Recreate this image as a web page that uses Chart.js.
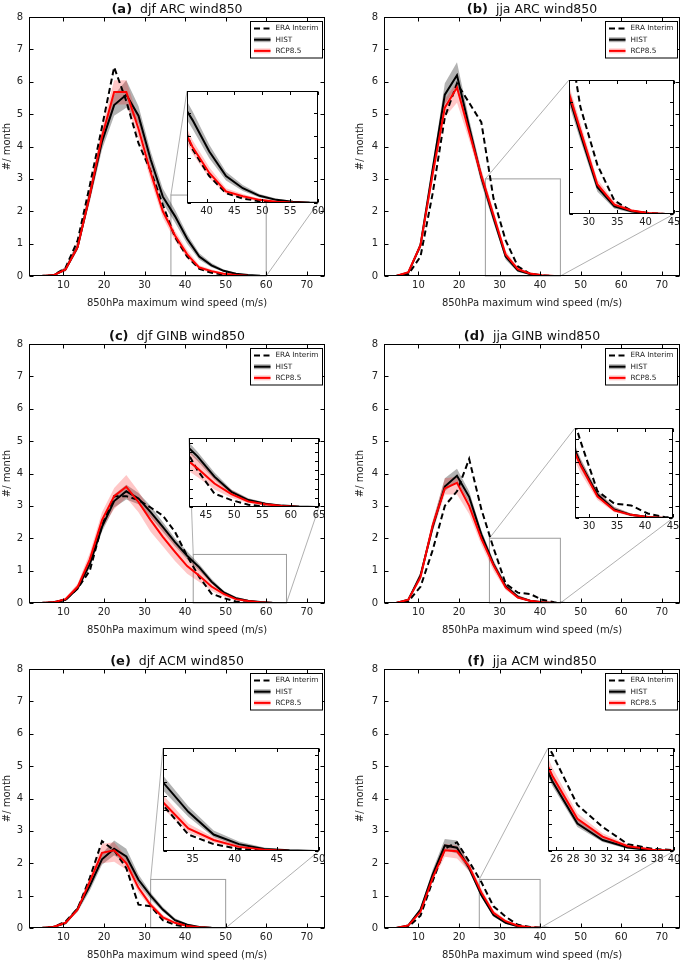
<!DOCTYPE html>
<html>
<head>
<meta charset="utf-8">
<script src="https://cdn.jsdelivr.net/npm/chart.js@4.4.0/dist/chart.umd.min.js"></script>
<style>
  body { margin: 0; background: #fff; }
  #fig { position: relative; width: 685px; height: 961px; overflow: hidden; font-family: 'DejaVu Sans', sans-serif; }
  #fig canvas { position: absolute; }
  .ttl { position: absolute; text-align: center; font-size: 12.5px; line-height: 14px; color: #111; white-space: nowrap; }
  .ttl b { font-size: 13px; margin-right: 4px; }
</style>
</head>
<body>
<div id="fig"></div>
<script>
// bin centres (m/s)
const speeds = [1.5, 4.5, 7.5, 10.5, 13.5, 16.5, 19.5, 22.5, 25.5, 28.5, 31.5, 34.5, 37.5,
                40.5, 43.5, 46.5, 49.5, 52.5, 55.5, 58.5, 61.5, 64.5, 67.5, 70.5, 73.5];
const xTicksMain = [10, 20, 30, 40, 50, 60, 70];
const yTicksMain = [0, 1, 2, 3, 4, 5, 6, 7, 8];

// (a) djf ARC
const arcDjfEra    = [0,0,0.02,0.25,1.1,2.8,4.6,6.45,5.4,4.1,3.25,2.2,1.2,0.6,0.22,0.1,0.04,0.01,0,0,0,0,0,0,0];
const arcDjfHist   = [0,0,0.02,0.2,0.9,2.5,4.15,5.28,5.6,4.95,3.6,2.45,1.85,1.15,0.6,0.33,0.16,0.07,0.03,0.01,0,0,0,0,0];
const arcDjfHistLo = [0,0,0.01,0.15,0.8,2.3,3.9,4.95,5.2,4.7,3.35,2.25,1.65,1.0,0.5,0.27,0.12,0.05,0.02,0,0,0,0,0,0];
const arcDjfHistHi = [0,0,0.03,0.28,1.05,2.7,4.45,5.6,6.05,5.25,3.85,2.7,2.05,1.3,0.7,0.4,0.2,0.1,0.04,0.015,0,0,0,0,0];
const arcDjfRcp    = [0,0,0.02,0.2,0.9,2.5,4.3,5.68,5.68,4.55,3.2,2.0,1.25,0.67,0.26,0.15,0.07,0.03,0.01,0,0,0,0,0,0];
const arcDjfRcpLo  = [0,0,0.01,0.15,0.8,2.3,4.0,5.3,5.3,4.25,2.95,1.8,1.1,0.55,0.2,0.1,0.04,0.01,0,0,0,0,0,0,0];
const arcDjfRcpHi  = [0,0,0.03,0.28,1.1,2.75,4.6,6.05,6.05,4.85,3.45,2.2,1.4,0.8,0.33,0.2,0.1,0.05,0.02,0,0,0,0,0,0];

// (b) jja ARC
const arcJjaEra    = [0,0,0.05,0.6,2.55,4.9,5.95,5.35,4.75,2.4,1.1,0.3,0.07,0.02,0,0,0,0,0,0,0,0,0,0,0];
const arcJjaHist   = [0,0,0.1,0.95,3.3,5.6,6.2,4.6,3.05,1.8,0.6,0.17,0.06,0.01,0,0,0,0,0,0,0,0,0,0,0];
const arcJjaHistLo = [0,0,0.08,0.85,3.1,5.3,5.85,4.4,2.85,1.65,0.5,0.12,0.03,0,0,0,0,0,0,0,0,0,0,0,0];
const arcJjaHistHi = [0,0,0.13,1.05,3.45,5.95,6.6,4.85,3.25,1.95,0.7,0.22,0.08,0.02,0,0,0,0,0,0,0,0,0,0,0];
const arcJjaRcp    = [0,0,0.12,0.95,3.15,5.2,5.82,4.45,3.1,1.88,0.66,0.21,0.08,0.02,0,0,0,0,0,0,0,0,0,0,0];
const arcJjaRcpLo  = [0,0,0.09,0.85,2.95,4.9,5.35,4.2,2.95,1.75,0.58,0.16,0.05,0.01,0,0,0,0,0,0,0,0,0,0,0];
const arcJjaRcpHi  = [0,0,0.14,1.05,3.3,5.45,6.0,4.7,3.3,2.05,0.78,0.28,0.11,0.03,0,0,0,0,0,0,0,0,0,0,0];

// (c) djf GINB
const ginDjfEra    = [0,0,0.02,0.1,0.45,1.0,2.4,3.3,3.3,3.18,2.95,2.7,2.2,1.45,0.8,0.29,0.15,0.05,0.01,0,0,0,0,0,0];
const ginDjfHist   = [0,0,0.02,0.1,0.45,1.2,2.35,3.15,3.45,3.23,2.81,2.35,1.88,1.46,1.1,0.66,0.33,0.15,0.07,0.03,0.01,0,0,0,0];
const ginDjfHistLo = [0,0,0.01,0.07,0.4,1.1,2.2,2.95,3.2,3.05,2.65,2.2,1.75,1.35,1.0,0.6,0.28,0.12,0.05,0.02,0,0,0,0,0];
const ginDjfHistHi = [0,0,0.03,0.13,0.55,1.35,2.5,3.35,3.65,3.4,3.0,2.5,2.0,1.6,1.2,0.75,0.38,0.19,0.1,0.04,0.015,0,0,0,0];
const ginDjfRcp    = [0,0,0.02,0.12,0.5,1.35,2.56,3.3,3.59,3.12,2.56,2.04,1.58,1.14,0.84,0.51,0.28,0.12,0.06,0.02,0,0,0,0,0];
const ginDjfRcpLo  = [0,0,0.01,0.08,0.4,1.15,2.3,2.9,3.25,2.8,2.2,1.75,1.3,0.9,0.65,0.38,0.2,0.08,0.03,0.01,0,0,0,0,0];
const ginDjfRcpHi  = [0,0,0.03,0.16,0.6,1.55,2.8,3.55,3.95,3.45,2.85,2.35,1.85,1.4,1.05,0.65,0.37,0.17,0.09,0.04,0.01,0,0,0,0];

// (d) jja GINB
const ginJjaEra    = [0,0,0.05,0.5,1.63,3.0,3.45,4.45,2.9,1.7,0.6,0.32,0.28,0.1,0.02,0,0,0,0,0,0,0,0,0,0];
const ginJjaHist   = [0,0,0.1,0.85,2.35,3.6,3.93,3.28,2.12,1.2,0.52,0.19,0.07,0.02,0,0,0,0,0,0,0,0,0,0,0];
const ginJjaHistLo = [0,0,0.08,0.75,2.2,3.45,3.75,3.1,1.95,1.1,0.45,0.15,0.04,0.01,0,0,0,0,0,0,0,0,0,0,0];
const ginJjaHistHi = [0,0,0.13,0.95,2.5,3.85,4.15,3.45,2.25,1.32,0.6,0.25,0.1,0.03,0,0,0,0,0,0,0,0,0,0,0];
const ginJjaRcp    = [0,0,0.1,0.8,2.4,3.54,3.71,3.0,1.99,1.17,0.48,0.17,0.07,0.02,0,0,0,0,0,0,0,0,0,0,0];
const ginJjaRcpLo  = [0,0,0.08,0.7,2.2,3.35,3.35,2.75,1.8,1.0,0.4,0.13,0.04,0.01,0,0,0,0,0,0,0,0,0,0,0];
const ginJjaRcpHi  = [0,0,0.13,0.95,2.55,3.85,3.9,3.15,2.15,1.3,0.58,0.24,0.1,0.03,0,0,0,0,0,0,0,0,0,0,0];

// (e) djf ACM
const acmDjfEra    = [0,0,0.03,0.2,0.6,1.55,2.68,2.4,1.85,0.72,0.67,0.24,0.1,0.03,0.01,0,0,0,0,0,0,0,0,0,0];
const acmDjfHist   = [0,0,0.03,0.15,0.6,1.3,2.12,2.45,2.21,1.49,1.0,0.57,0.24,0.1,0.03,0.01,0,0,0,0,0,0,0,0,0];
const acmDjfHistLo = [0,0,0.02,0.12,0.5,1.15,1.95,2.25,2.0,1.35,0.88,0.5,0.2,0.07,0.02,0,0,0,0,0,0,0,0,0,0];
const acmDjfHistHi = [0,0,0.04,0.18,0.65,1.45,2.3,2.7,2.45,1.65,1.1,0.65,0.3,0.14,0.05,0.015,0,0,0,0,0,0,0,0,0];
const acmDjfRcp    = [0,0,0.03,0.16,0.57,1.44,2.32,2.4,2.0,1.24,0.71,0.33,0.16,0.06,0.02,0,0,0,0,0,0,0,0,0,0];
const acmDjfRcpLo  = [0,0,0.02,0.12,0.5,1.3,2.0,2.05,1.8,1.1,0.62,0.27,0.12,0.04,0.01,0,0,0,0,0,0,0,0,0,0];
const acmDjfRcpHi  = [0,0,0.04,0.2,0.65,1.6,2.6,2.65,2.2,1.4,0.82,0.4,0.2,0.09,0.03,0,0,0,0,0,0,0,0,0,0];

// (f) jja ACM
const acmJjaEra    = [0,0,0.04,0.38,1.45,2.45,2.65,2.05,1.42,0.67,0.35,0.1,0.03,0.01,0,0,0,0,0,0,0,0,0,0,0];
const acmJjaHist   = [0,0,0.08,0.57,1.65,2.55,2.48,1.85,1.02,0.4,0.16,0.05,0.01,0,0,0,0,0,0,0,0,0,0,0,0];
const acmJjaHistLo = [0,0,0.06,0.5,1.55,2.4,2.3,1.75,0.95,0.35,0.13,0.03,0,0,0,0,0,0,0,0,0,0,0,0,0];
const acmJjaHistHi = [0,0,0.1,0.62,1.8,2.75,2.7,1.98,1.1,0.46,0.2,0.07,0.02,0,0,0,0,0,0,0,0,0,0,0,0];
const acmJjaRcp    = [0,0,0.08,0.5,1.55,2.4,2.37,1.9,1.1,0.47,0.21,0.07,0.02,0,0,0,0,0,0,0,0,0,0,0,0];
const acmJjaRcpLo  = [0,0,0.06,0.45,1.45,2.2,2.15,1.75,1.0,0.4,0.17,0.05,0.01,0,0,0,0,0,0,0,0,0,0,0,0];
const acmJjaRcpHi  = [0,0,0.1,0.58,1.7,2.6,2.55,2.05,1.22,0.55,0.26,0.1,0.03,0,0,0,0,0,0,0,0,0,0,0,0];

// inset (zoom) ranges and ticks
const zoomA = [36.5, 60, 2.5], insetXTicksA = [40, 45, 50, 55, 60], insetYTicksA = [0, 0.5, 1, 1.5, 2, 2.5];
const zoomB = [26.5, 45, 3],   insetXTicksB = [30, 35, 40, 45],     insetYTicksB = [0, 0.5, 1, 1.5, 2, 2.5, 3];
const zoomC = [42, 65, 1.5],   insetXTicksC = [45, 50, 55, 60, 65], insetYTicksC = [0, 0.2, 0.4, 0.6, 0.8, 1, 1.2, 1.4];
const zoomD = [27.5, 45, 2],   insetXTicksD = [30, 35, 40, 45],     insetYTicksD = [0, 0.25, 0.5, 0.75, 1, 1.25, 1.5, 1.75, 2];
const zoomE = [31.5, 50, 1.5], insetXTicksE = [35, 40, 45, 50],     insetYTicksE = [0, 0.2, 0.4, 0.6, 0.8, 1, 1.2, 1.4];
const zoomF = [25, 40, 1.5],   insetXTicksF = [26, 28, 30, 32, 34, 36, 38, 40], insetYTicksF = [0, 0.2, 0.4, 0.6, 0.8, 1, 1.2, 1.4];

const panels = [
  { tag: '(a)', name: 'djf ARC wind850', col: 0, row: 0, era: arcDjfEra, hist: arcDjfHist, histLo: arcDjfHistLo, histHi: arcDjfHistHi, rcp: arcDjfRcp, rcpLo: arcDjfRcpLo, rcpHi: arcDjfRcpHi, zoom: zoomA, ixt: insetXTicksA, iyt: insetYTicksA, box: [187, 91, 318, 203] },
  { tag: '(b)', name: 'jja ARC wind850', col: 1, row: 0, era: arcJjaEra, hist: arcJjaHist, histLo: arcJjaHistLo, histHi: arcJjaHistHi, rcp: arcJjaRcp, rcpLo: arcJjaRcpLo, rcpHi: arcJjaRcpHi, zoom: zoomB, ixt: insetXTicksB, iyt: insetYTicksB, box: [569, 80, 674, 214] },
  { tag: '(c)', name: 'djf GINB wind850', col: 0, row: 1, era: ginDjfEra, hist: ginDjfHist, histLo: ginDjfHistLo, histHi: ginDjfHistHi, rcp: ginDjfRcp, rcpLo: ginDjfRcpLo, rcpHi: ginDjfRcpHi, zoom: zoomC, ixt: insetXTicksC, iyt: insetYTicksC, box: [189, 438, 319, 507] },
  { tag: '(d)', name: 'jja GINB wind850', col: 1, row: 1, era: ginJjaEra, hist: ginJjaHist, histLo: ginJjaHistLo, histHi: ginJjaHistHi, rcp: ginJjaRcp, rcpLo: ginJjaRcpLo, rcpHi: ginJjaRcpHi, zoom: zoomD, ixt: insetXTicksD, iyt: insetYTicksD, box: [575, 428, 673, 518] },
  { tag: '(e)', name: 'djf ACM wind850', col: 0, row: 2, era: acmDjfEra, hist: acmDjfHist, histLo: acmDjfHistLo, histHi: acmDjfHistHi, rcp: acmDjfRcp, rcpLo: acmDjfRcpLo, rcpHi: acmDjfRcpHi, zoom: zoomE, ixt: insetXTicksE, iyt: insetYTicksE, box: [163, 748, 319, 851] },
  { tag: '(f)', name: 'jja ACM wind850', col: 1, row: 2, era: acmJjaEra, hist: acmJjaHist, histLo: acmJjaHistLo, histHi: acmJjaHistHi, rcp: acmJjaRcp, rcpLo: acmJjaRcpLo, rcpHi: acmJjaRcpHi, zoom: zoomF, ixt: insetXTicksF, iyt: insetYTicksF, box: [548, 748, 674, 851] }
];

// page geometry
const colX = [0, 340], colW = [340, 345], plotL = [29, 44], plotR = [325, 340];
const rowY = [0, 320, 640], rowH = [320, 320, 321], plotT = [17, 24, 29], plotB = [276, 283, 288];
const X_AXIS_H = 33;
const yTitlePad = [1, 14.5];

const FONT = "'DejaVu Sans', sans-serif";
const GRAY_BAND = 'rgba(0,0,0,0.3)';
const RED_BAND = 'rgba(255,0,0,0.22)';
const ERA_DASH = [6, 3.5];

const fig = document.getElementById('fig');

function addCanvas(left, top, w, h) {
  const c = document.createElement('canvas');
  c.width = w; c.height = h;
  c.style.left = left + 'px'; c.style.top = top + 'px';
  c.style.width = w + 'px'; c.style.height = h + 'px';
  fig.appendChild(c);
  return c;
}

function pts(arr) { return speeds.map((s, i) => ({ x: s, y: arr[i] })); }

function makeDatasets(p) {
  const band = { borderColor: 'rgba(0,0,0,0)', borderWidth: 0, pointRadius: 0 };
  return [
    { ...band, data: pts(p.histLo), fill: false, order: 10 },
    { ...band, data: pts(p.histHi), fill: 0, backgroundColor: GRAY_BAND, order: 10 },
    { ...band, data: pts(p.rcpLo), fill: false, order: 9 },
    { ...band, data: pts(p.rcpHi), fill: 2, backgroundColor: RED_BAND, order: 9 },
    { label: 'ERA Interim', data: pts(p.era), borderColor: '#000', borderWidth: 2, borderDash: ERA_DASH, fill: false, order: 3 },
    { label: 'HIST', data: pts(p.hist), borderColor: '#000', borderWidth: 2, fill: false, order: 2 },
    { label: 'RCP8.5', data: pts(p.rcp), borderColor: '#ff0000', borderWidth: 2, fill: false, order: 1 }
  ];
}

function frameAndTicks(ctx, ca, xs, ys, xt, yt, len) {
  const l = Math.round(ca.left) + 0.5, r = Math.round(ca.right) - 0.5;
  const t = Math.round(ca.top) + 0.5, b = Math.round(ca.bottom) - 0.5;
  ctx.strokeStyle = '#000';
  ctx.lineWidth = 1;
  ctx.setLineDash([]);
  ctx.beginPath();
  xt.forEach(v => {
    const px = Math.round(xs.getPixelForValue(v)) + 0.5;
    ctx.moveTo(px, b); ctx.lineTo(px, b - len);
    ctx.moveTo(px, t); ctx.lineTo(px, t + len);
  });
  yt.forEach(v => {
    const py = Math.round(ys.getPixelForValue(v)) + 0.5;
    ctx.moveTo(l, py); ctx.lineTo(l + len, py);
    ctx.moveTo(r, py); ctx.lineTo(r - len, py);
  });
  ctx.stroke();
  ctx.strokeRect(l, t, r - l, b - t);
}

function drawLegend(ctx, ca, datasets) {
  const w = 72, h = 36.5;
  const bx = Math.round(ca.right - 3.5 - w) + 0.5, by = Math.round(ca.top + 4) + 0.5;
  ctx.fillStyle = '#fff';
  ctx.fillRect(bx, by, w, h);
  ctx.strokeStyle = '#000';
  ctx.lineWidth = 1;
  ctx.setLineDash([]);
  ctx.strokeRect(bx, by, w, h);
  const items = datasets.filter(d => d.label);
  items.forEach((d, i) => {
    const yy = by + 7 + i * 11.2;
    const x0 = bx + 3.5, x1 = bx + 20;
    if (d.label !== 'ERA Interim') {
      ctx.strokeStyle = d.label === 'HIST' ? GRAY_BAND : RED_BAND;
      ctx.lineWidth = 5;
      ctx.setLineDash([]);
      ctx.beginPath(); ctx.moveTo(x0, yy); ctx.lineTo(x1, yy); ctx.stroke();
    }
    ctx.strokeStyle = d.borderColor;
    ctx.lineWidth = 2;
    ctx.setLineDash(d.borderDash || []);
    ctx.beginPath(); ctx.moveTo(x0, yy); ctx.lineTo(x1, yy); ctx.stroke();
    ctx.setLineDash([]);
    ctx.fillStyle = '#222';
    ctx.font = '7.3px ' + FONT;
    ctx.textBaseline = 'middle';
    ctx.textAlign = 'left';
    ctx.fillText(d.label, bx + 25, yy);
  });
}

const tickFont = { family: FONT, size: 10 };

function setTicks(list) {
  return scale => { scale.ticks = list.map(v => ({ value: v })); };
}

// build DOM: main canvases first, insets on top
const built = panels.map(p => {
  const main = addCanvas(colX[p.col], rowY[p.row], colW[p.col], rowH[p.row]);
  const t = document.createElement('div');
  t.className = 'ttl';
  t.style.left = (colX[p.col] + plotL[p.col]) + 'px';
  t.style.width = (plotR[p.col] - plotL[p.col]) + 'px';
  t.style.top = (rowY[p.row] + plotT[p.row] - 15) + 'px';
  t.innerHTML = '<b>' + p.tag + '</b> ' + p.name;
  fig.appendChild(t);
  return { p, main };
});
built.forEach(b => {
  const [L, T, R, B] = b.p.box;
  b.insetPos = { left: L - 10, top: T - 3 };
  b.inset = addCanvas(L - 10, T - 3, R - L + 20, B - T + 3 + 18);
});

built.forEach(({ p, main, inset, insetPos }) => {
  // inset chart
  const insetChart = new Chart(inset, {
    type: 'line',
    data: { datasets: makeDatasets(p) },
    options: {
      responsive: false, animation: false, events: [],
      layout: { padding: { left: 10, right: 10, top: 3, bottom: 0 } },
      plugins: { legend: { display: false }, tooltip: { enabled: false } },
      elements: { point: { radius: 0 }, line: { tension: 0 } },
      scales: {
        x: {
          type: 'linear', min: p.zoom[0], max: p.zoom[1],
          grid: { display: false, drawTicks: false }, border: { display: false },
          ticks: { font: tickFont, color: '#222', padding: 2, maxRotation: 0, autoSkip: false },
          afterBuildTicks: setTicks(p.ixt),
          afterFit: s => { s.height = 18; }
        },
        y: {
          type: 'linear', min: 0, max: p.zoom[2],
          grid: { display: false, drawTicks: false }, border: { display: false },
          ticks: { display: false },
          afterBuildTicks: setTicks(p.iyt),
          afterFit: s => { s.width = 0; }
        }
      }
    },
    plugins: [{
      id: 'insetDecor',
      beforeDatasetsDraw(chart) {
        const ca = chart.chartArea;
        chart.ctx.save();
        chart.ctx.fillStyle = '#fff';
        chart.ctx.fillRect(ca.left, ca.top, ca.right - ca.left, ca.bottom - ca.top);
        chart.ctx.restore();
      },
      afterDraw(chart) {
        const { ctx, chartArea, scales } = chart;
        ctx.save();
        frameAndTicks(ctx, chartArea, scales.x, scales.y, p.ixt, p.iyt, 3.5);
        ctx.restore();
      }
    }]
  });

  // main chart
  const padBottom = rowH[p.row] - plotB[p.row] - X_AXIS_H;
  new Chart(main, {
    type: 'line',
    data: { datasets: makeDatasets(p) },
    options: {
      responsive: false, animation: false, events: [],
      layout: { padding: { left: 0, right: colW[p.col] - plotR[p.col], top: plotT[p.row], bottom: padBottom } },
      plugins: { legend: { display: false }, tooltip: { enabled: false } },
      elements: { point: { radius: 0 }, line: { tension: 0 } },
      scales: {
        x: {
          type: 'linear', min: 1.5, max: 74.5,
          grid: { display: false, drawTicks: false }, border: { display: false },
          ticks: { font: tickFont, color: '#222', padding: 3, maxRotation: 0, autoSkip: false },
          afterBuildTicks: setTicks(xTicksMain),
          afterFit: s => { s.height = X_AXIS_H; },
          title: { display: true, text: '850hPa maximum wind speed (m/s)', font: tickFont, color: '#222', padding: { top: 0, bottom: 0 } }
        },
        y: {
          type: 'linear', min: 0, max: 8,
          grid: { display: false, drawTicks: false }, border: { display: false },
          ticks: { font: tickFont, color: '#222', padding: 6, autoSkip: false },
          afterBuildTicks: setTicks(yTicksMain),
          afterFit: s => { s.width = plotL[p.col]; },
          title: { display: true, text: '#/ month', font: tickFont, color: '#222', padding: { top: yTitlePad[p.col], bottom: 0 } }
        }
      }
    },
    plugins: [{
      id: 'mainDecor',
      beforeDatasetsDraw(chart) {
        const { ctx, scales: { x, y } } = chart;
        const rx0 = x.getPixelForValue(p.zoom[0]), rx1 = x.getPixelForValue(p.zoom[1]);
        const ry0 = y.getPixelForValue(0), ry1 = y.getPixelForValue(p.zoom[2]);
        const ia = insetChart.chartArea;
        const ox = insetPos.left - colX[p.col], oy = insetPos.top - rowY[p.row];
        ctx.save();
        ctx.strokeStyle = '#9c9c9c';
        ctx.lineWidth = 1;
        ctx.strokeRect(rx0, ry1, rx1 - rx0, ry0 - ry1);
        ctx.lineWidth = 0.8;
        ctx.beginPath();
        ctx.moveTo(rx0, ry1); ctx.lineTo(ox + ia.left, oy + ia.top);
        ctx.moveTo(rx1, ry0); ctx.lineTo(ox + ia.right, oy + ia.bottom);
        ctx.stroke();
        ctx.restore();
      },
      afterDraw(chart) {
        const { ctx, chartArea, scales } = chart;
        ctx.save();
        frameAndTicks(ctx, chartArea, scales.x, scales.y, xTicksMain, yTicksMain, 4);
        drawLegend(ctx, chartArea, chart.data.datasets);
        ctx.restore();
      }
    }]
  });
});
</script>
</body>
</html>
